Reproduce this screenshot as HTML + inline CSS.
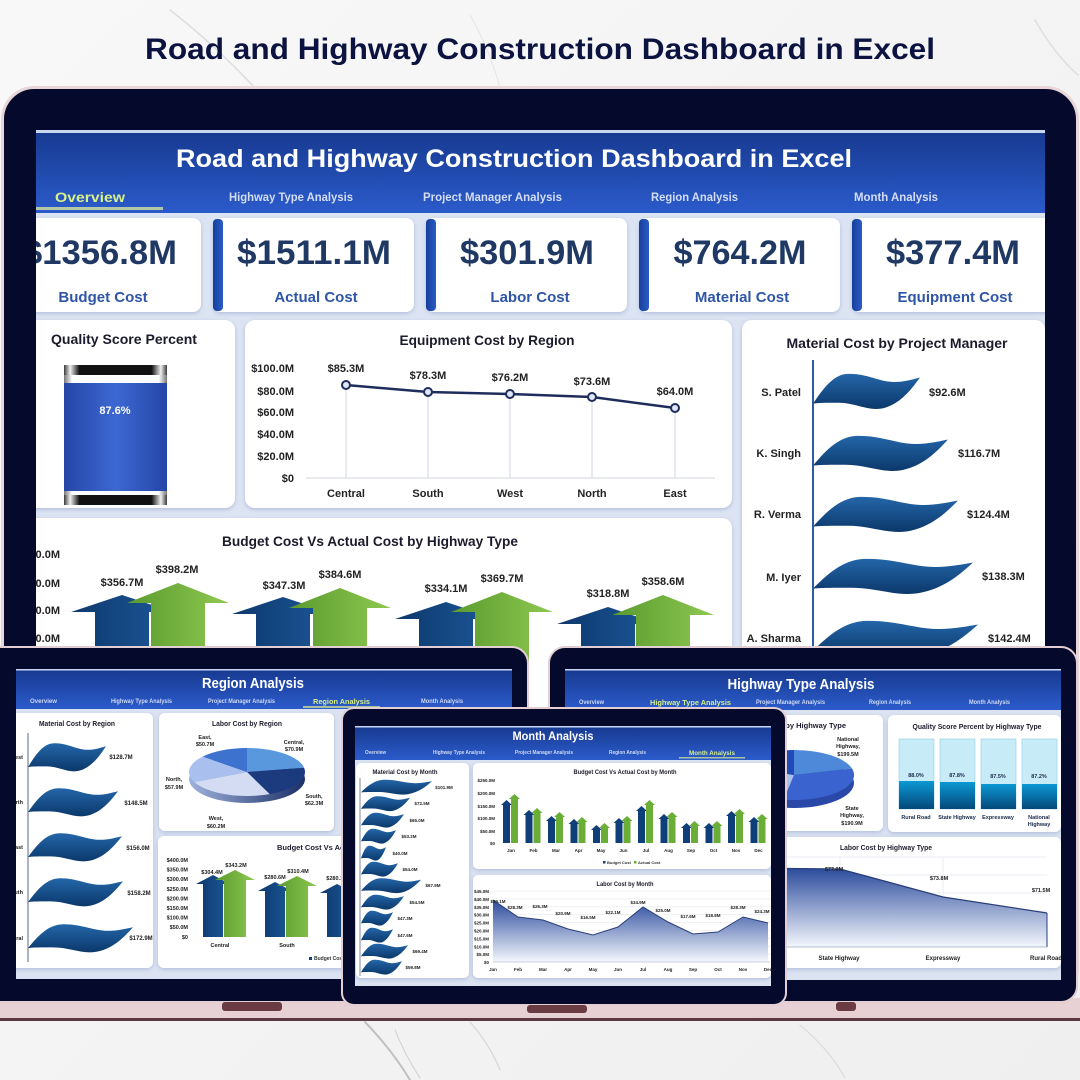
<!DOCTYPE html>
<html><head><meta charset="utf-8">
<style>
html,body{margin:0;padding:0;background:#f4f4f4;}
svg{display:block;}
text{font-family:"Liberation Sans",Arial,sans-serif;font-weight:bold;}
</style></head>
<body>
<svg width="1080" height="1080" viewBox="0 0 1080 1080" xmlns="http://www.w3.org/2000/svg">
<defs>
  <linearGradient id="bg" x1="0" y1="0" x2="1" y2="1"><stop offset="0" stop-color="#f8f8f8"/><stop offset="1" stop-color="#efefef"/></linearGradient>
  <linearGradient id="hdr" x1="0" y1="0" x2="0" y2="1"><stop offset="0" stop-color="#17398f"/><stop offset="1" stop-color="#2b5bcb"/></linearGradient>
  <linearGradient id="flag" x1="0" y1="0" x2="0" y2="1"><stop offset="0" stop-color="#2466a9"/><stop offset="1" stop-color="#0b386a"/></linearGradient>
  <linearGradient id="blueA" x1="0" y1="0" x2="1" y2="0"><stop offset="0" stop-color="#0d386d"/><stop offset="1" stop-color="#1c5898"/></linearGradient>
  <linearGradient id="greenA" x1="0" y1="0" x2="1" y2="0"><stop offset="0" stop-color="#5a9a2e"/><stop offset="1" stop-color="#8dc850"/></linearGradient>
  <linearGradient id="gauge" x1="0" y1="0" x2="1" y2="0"><stop offset="0" stop-color="#2446a6"/><stop offset=".5" stop-color="#3d68d2"/><stop offset="1" stop-color="#2446a6"/></linearGradient>
  <linearGradient id="capG" x1="0" y1="0" x2="1" y2="0"><stop offset="0" stop-color="#3a3a3a"/><stop offset=".06" stop-color="#f0f0f0"/><stop offset=".15" stop-color="#111"/><stop offset=".85" stop-color="#111"/><stop offset=".94" stop-color="#f0f0f0"/><stop offset="1" stop-color="#3a3a3a"/></linearGradient>
  <linearGradient id="wband" x1="0" y1="0" x2="1" y2="0"><stop offset="0" stop-color="#777"/><stop offset=".08" stop-color="#fff"/><stop offset=".92" stop-color="#fff"/><stop offset="1" stop-color="#777"/></linearGradient>
  <linearGradient id="accent" x1="0" y1="0" x2="1" y2="0"><stop offset="0" stop-color="#163f9c"/><stop offset="1" stop-color="#2a5cc4"/></linearGradient>
  <linearGradient id="area" x1="0" y1="0" x2="0" y2="1"><stop offset="0" stop-color="#2b4b9c"/><stop offset="1" stop-color="#f4f7fd"/></linearGradient>
  <linearGradient id="pieSide" x1="0" y1="0" x2="1" y2="0"><stop offset="0" stop-color="#9fb2dc"/><stop offset="1" stop-color="#1c2f68"/></linearGradient>
  <linearGradient id="qDark" x1="0" y1="0" x2="0" y2="1"><stop offset="0" stop-color="#0b98d3"/><stop offset="1" stop-color="#05487a"/></linearGradient>
  <path id="fl" d="M0,14 C8,0 18,-18 32,-19 C50,-20 62,-10 76,-10 C86,-10 93,-13 100,-15 C92,-2 82,14 66,19 C52,23 40,13 24,13 C12,13 5,13 0,14 Z"/>
  <clipPath id="cMain"><rect x="36" y="130" width="1009" height="640"/></clipPath>
  <clipPath id="cReg"><rect x="16" y="669" width="496" height="310"/></clipPath>
  <clipPath id="cHw"><rect x="565" y="669" width="496" height="311"/></clipPath>
  <clipPath id="cMon"><rect x="355" y="726" width="416" height="260"/></clipPath>
  <filter id="sh" x="-5%" y="-5%" width="110%" height="115%"><feDropShadow dx="0" dy="1.5" stdDeviation="2" flood-color="#7d90bd" flood-opacity=".45"/></filter>
</defs>

<!-- marble background -->
<rect width="1080" height="1080" fill="url(#bg)"/>
<g fill="none" stroke-linecap="round">
  <path d="M170,10 Q215,45 255,88" stroke="#d2d2d2" stroke-width="1.5" opacity=".7"/>
  <path d="M470,15 Q490,50 500,88" stroke="#dadada" stroke-width="1" opacity=".6"/>
  <path d="M1035,20 Q1055,55 1078,75" stroke="#d0d0d0" stroke-width="1.5" opacity=".6"/>
  <path d="M365,1022 Q392,1050 410,1080" stroke="#8f8f8f" stroke-width="2" opacity=".5"/>
  <path d="M395,1030 Q405,1055 420,1078" stroke="#b5b5b5" stroke-width="1" opacity=".6"/>
  <path d="M470,1022 Q490,1045 500,1070" stroke="#c4c4c4" stroke-width="1.2" opacity=".6"/>
  <path d="M800,1025 Q830,1050 845,1078" stroke="#cfcfcf" stroke-width="1.2" opacity=".6"/>
</g>

<!-- page title -->
<text x="540" y="59" text-anchor="middle" font-size="30" fill="#0c1340" textLength="790" lengthAdjust="spacingAndGlyphs">Road and Highway Construction Dashboard in Excel</text>

<!-- BIG LAPTOP -->
<rect x="2.5" y="87.5" width="1075" height="912" rx="32" fill="#050a2c" stroke="#ead6d9" stroke-width="3"/>
<g clip-path="url(#cMain)">
  <rect x="36" y="130" width="1009" height="640" fill="#dce4f3"/>
  <rect x="36" y="130" width="1009" height="83" fill="url(#hdr)"/>
  <rect x="36" y="130" width="1009" height="3" fill="#c9d7f2"/>
  <text x="514" y="167" text-anchor="middle" font-size="25" fill="#fff" textLength="676" lengthAdjust="spacingAndGlyphs">Road and Highway Construction Dashboard in Excel</text>
  <text x="55" y="202" font-size="14" fill="#d6f08a" textLength="70" lengthAdjust="spacingAndGlyphs">Overview</text>
  <rect x="36" y="207" width="127" height="3" fill="#b3c8a6"/>
  <g font-size="12" fill="#d3ddf5">
    <text x="229" y="201" textLength="124" lengthAdjust="spacingAndGlyphs">Highway Type Analysis</text>
    <text x="423" y="201" textLength="139" lengthAdjust="spacingAndGlyphs">Project Manager Analysis</text>
    <text x="651" y="201" textLength="87" lengthAdjust="spacingAndGlyphs">Region Analysis</text>
    <text x="854" y="201" textLength="84" lengthAdjust="spacingAndGlyphs">Month Analysis</text>
  </g>

  <!-- KPI cards -->
  <g filter="url(#sh)" fill="#fff">
    <rect x="0" y="218" width="201" height="94" rx="8"/>
    <rect x="213" y="218" width="201" height="94" rx="8"/>
    <rect x="426" y="218" width="201" height="94" rx="8"/>
    <rect x="639" y="218" width="201" height="94" rx="8"/>
    <rect x="852" y="218" width="201" height="94" rx="8"/>
  </g>
  <g fill="url(#accent)">
    <rect x="213" y="219" width="10" height="92" rx="4"/>
    <rect x="426" y="219" width="10" height="92" rx="4"/>
    <rect x="639" y="219" width="10" height="92" rx="4"/>
    <rect x="852" y="219" width="10" height="92" rx="4"/>
  </g>
  <g font-size="34" fill="#1f3864" text-anchor="middle">
    <text x="100" y="264" textLength="154" lengthAdjust="spacingAndGlyphs">$1356.8M</text>
    <text x="314" y="264" textLength="154" lengthAdjust="spacingAndGlyphs">$1511.1M</text>
    <text x="527" y="264" textLength="134" lengthAdjust="spacingAndGlyphs">$301.9M</text>
    <text x="740" y="264" textLength="133" lengthAdjust="spacingAndGlyphs">$764.2M</text>
    <text x="953" y="264" textLength="134" lengthAdjust="spacingAndGlyphs">$377.4M</text>
  </g>
  <g font-size="15" fill="#2f56a6" text-anchor="middle">
    <text x="103" y="302">Budget Cost</text>
    <text x="316" y="302">Actual Cost</text>
    <text x="530" y="302">Labor Cost</text>
    <text x="742" y="302">Material Cost</text>
    <text x="955" y="302">Equipment Cost</text>
  </g>

  <!-- row 2 cards -->
  <g filter="url(#sh)" fill="#fff">
    <rect x="20" y="320" width="215" height="188" rx="10"/>
    <rect x="245" y="320" width="487" height="188" rx="10"/>
    <rect x="742" y="320" width="303" height="440" rx="10"/>
    <rect x="20" y="518" width="712" height="260" rx="10"/>
  </g>

  <!-- Quality score -->
  <text x="124" y="344" text-anchor="middle" font-size="14" fill="#1b1b2b" textLength="146" lengthAdjust="spacingAndGlyphs">Quality Score Percent</text>
  <rect x="64" y="365" width="103" height="10" fill="url(#capG)"/>
  <rect x="64" y="375" width="103" height="8" fill="url(#wband)"/>
  <rect x="64" y="383" width="103" height="108" fill="url(#gauge)"/>
  <rect x="64" y="491" width="103" height="4" fill="url(#wband)"/>
  <rect x="64" y="495" width="103" height="10" fill="url(#capG)"/>
  <text x="115" y="414" text-anchor="middle" font-size="11" fill="#fff">87.6%</text>

  <!-- Equipment cost by region -->
  <text x="487" y="345" text-anchor="middle" font-size="14" fill="#1b1b2b" textLength="175" lengthAdjust="spacingAndGlyphs">Equipment Cost by Region</text>
  <g font-size="11" fill="#222" text-anchor="end">
    <text x="294" y="372">$100.0M</text>
    <text x="294" y="395">$80.0M</text>
    <text x="294" y="416">$60.0M</text>
    <text x="294" y="438">$40.0M</text>
    <text x="294" y="460">$20.0M</text>
    <text x="294" y="482">$0</text>
  </g>
  <line x1="306" y1="478" x2="715" y2="478" stroke="#d3d6dc" stroke-width="1"/>
  <g stroke="#cfd6e2" stroke-width="1">
    <line x1="346" y1="385" x2="346" y2="478"/>
    <line x1="428" y1="392" x2="428" y2="478"/>
    <line x1="510" y1="394" x2="510" y2="478"/>
    <line x1="592" y1="397" x2="592" y2="478"/>
    <line x1="675" y1="408" x2="675" y2="478"/>
  </g>
  <polyline points="346,385 428,392 510,394 592,397 675,408" fill="none" stroke="#1e2d5c" stroke-width="2.5"/>
  <g fill="#dfe6f5" stroke="#1e2d5c" stroke-width="2">
    <circle cx="346" cy="385" r="4"/><circle cx="428" cy="392" r="4"/><circle cx="510" cy="394" r="4"/><circle cx="592" cy="397" r="4"/><circle cx="675" cy="408" r="4"/>
  </g>
  <g font-size="11" fill="#222" text-anchor="middle">
    <text x="346" y="372">$85.3M</text>
    <text x="428" y="379">$78.3M</text>
    <text x="510" y="381">$76.2M</text>
    <text x="592" y="385">$73.6M</text>
    <text x="675" y="395">$64.0M</text>
    <text x="346" y="497">Central</text>
    <text x="428" y="497">South</text>
    <text x="510" y="497">West</text>
    <text x="592" y="497">North</text>
    <text x="675" y="497">East</text>
  </g>

  <!-- Material cost by PM -->
  <text x="897" y="348" text-anchor="middle" font-size="14" fill="#1b1b2b" textLength="221" lengthAdjust="spacingAndGlyphs">Material Cost by Project Manager</text>
  <line x1="813" y1="360" x2="813" y2="770" stroke="#2e5aa8" stroke-width="2"/>
  <g fill="url(#flag)">
    <use href="#fl" transform="translate(813,391) scale(1.07,0.9)"/>
    <use href="#fl" transform="translate(813,453) scale(1.35,0.9)"/>
    <use href="#fl" transform="translate(813,514) scale(1.45,0.9)"/>
    <use href="#fl" transform="translate(813,576) scale(1.6,0.9)"/>
    <use href="#fl" transform="translate(813,638) scale(1.65,0.9)"/>
  </g>
  <g font-size="11" fill="#222" text-anchor="end">
    <text x="801" y="396">S. Patel</text>
    <text x="801" y="457">K. Singh</text>
    <text x="801" y="518">R. Verma</text>
    <text x="801" y="581">M. Iyer</text>
    <text x="801" y="642">A. Sharma</text>
  </g>
  <g font-size="11" fill="#222">
    <text x="929" y="396">$92.6M</text>
    <text x="958" y="457">$116.7M</text>
    <text x="967" y="518">$124.4M</text>
    <text x="982" y="580">$138.3M</text>
    <text x="988" y="642">$142.4M</text>
  </g>

  <!-- Budget vs actual by highway type -->
  <text x="370" y="546" text-anchor="middle" font-size="14" fill="#1b1b2b" textLength="296" lengthAdjust="spacingAndGlyphs">Budget Cost Vs Actual Cost by Highway Type</text>
  <g font-size="11" fill="#222" text-anchor="end">
    <text x="60" y="558">$400.0M</text>
    <text x="60" y="587">$300.0M</text>
    <text x="60" y="614">$200.0M</text>
    <text x="60" y="642">$100.0M</text>
  </g>
  <path fill="url(#blueA)" d="M95,770 L95,612 L71,612 L122,595 L173,612 L149,612 L149,770 Z"/>
  <path fill="url(#greenA)" d="M151,770 L151,603 L127,603 L178,583 L229,603 L205,603 L205,770 Z"/>
  <path fill="url(#blueA)" d="M256,770 L256,614 L232,614 L283,597 L334,614 L310,614 L310,770 Z"/>
  <path fill="url(#greenA)" d="M313,770 L313,608 L289,608 L340,588 L391,608 L367,608 L367,770 Z"/>
  <path fill="url(#blueA)" d="M419,770 L419,619 L395,619 L446,602 L497,619 L473,619 L473,770 Z"/>
  <path fill="url(#greenA)" d="M475,770 L475,612 L451,612 L502,592 L553,612 L529,612 L529,770 Z"/>
  <path fill="url(#blueA)" d="M581,770 L581,624 L557,624 L608,607 L659,624 L635,624 L635,770 Z"/>
  <path fill="url(#greenA)" d="M636,770 L636,615 L612,615 L663,595 L714,615 L690,615 L690,770 Z"/>
  <g font-size="11" fill="#222" text-anchor="middle">
    <text x="122" y="586">$356.7M</text>
    <text x="177" y="573">$398.2M</text>
    <text x="284" y="589">$347.3M</text>
    <text x="340" y="578">$384.6M</text>
    <text x="446" y="592">$334.1M</text>
    <text x="502" y="582">$369.7M</text>
    <text x="608" y="597">$318.8M</text>
    <text x="663" y="585">$358.6M</text>
  </g>
</g>

<!-- base strip -->
<rect x="0" y="998" width="1080" height="21" fill="#e7d1d4"/>
<rect x="0" y="1018" width="1080" height="3" fill="#5b3940"/>

<!-- REGION LAPTOP -->
<rect x="-20" y="647" width="548" height="355" rx="16" fill="#050a2c" stroke="#e3cfd3" stroke-width="2"/>
<g clip-path="url(#cReg)">
  <rect x="16" y="669" width="496" height="310" fill="#dbe3f2"/>
  <rect x="16" y="669" width="496" height="40" fill="url(#hdr)"/>
  <rect x="16" y="669" width="496" height="1.5" fill="#c9d7f2"/>
  <text x="253" y="688" text-anchor="middle" font-size="15" fill="#fff" textLength="102" lengthAdjust="spacingAndGlyphs">Region Analysis</text>
  <g font-size="6" fill="#cfdaf3">
    <text x="30" y="703" textLength="27" lengthAdjust="spacingAndGlyphs">Overview</text>
    <text x="111" y="703" textLength="61" lengthAdjust="spacingAndGlyphs">Highway Type Analysis</text>
    <text x="208" y="703" textLength="67" lengthAdjust="spacingAndGlyphs">Project Manager Analysis</text>
    <text x="421" y="703" textLength="42" lengthAdjust="spacingAndGlyphs">Month Analysis</text>
  </g>
  <text x="313" y="704" font-size="7.5" fill="#d6f08a" textLength="57" lengthAdjust="spacingAndGlyphs">Region Analysis</text>
  <rect x="303" y="706" width="77" height="2" fill="#a9c29d"/>

  <g filter="url(#sh)" fill="#fff">
    <rect x="10" y="713" width="143" height="255" rx="6"/>
    <rect x="159" y="713" width="175" height="118" rx="6"/>
    <rect x="158" y="836" width="200" height="132" rx="6"/>
  </g>
  <!-- material by region -->
  <text x="77" y="726" text-anchor="middle" font-size="7.5" fill="#1b1b2b" textLength="76" lengthAdjust="spacingAndGlyphs">Material Cost by Region</text>
  <line x1="28" y1="733" x2="28" y2="962" stroke="#5a6a8a" stroke-width="1"/>
  <g fill="url(#flag)">
    <use href="#fl" transform="translate(28,757) scale(0.78,0.72)"/>
    <use href="#fl" transform="translate(28,802) scale(0.9,0.72)"/>
    <use href="#fl" transform="translate(28,847) scale(0.94,0.72)"/>
    <use href="#fl" transform="translate(28,892) scale(0.95,0.72)"/>
    <use href="#fl" transform="translate(28,938) scale(1.05,0.72)"/>
  </g>
  <g font-size="5.5" fill="#222" text-anchor="end">
    <text x="23" y="759">West</text>
    <text x="23" y="804">North</text>
    <text x="23" y="849">East</text>
    <text x="23" y="894">South</text>
    <text x="23" y="940">Central</text>
  </g>
  <g font-size="6" fill="#222" text-anchor="middle">
    <text x="121" y="759">$128.7M</text>
    <text x="136" y="805">$148.5M</text>
    <text x="138" y="850">$156.0M</text>
    <text x="139" y="895">$158.2M</text>
    <text x="141" y="940">$172.9M</text>
  </g>
  <!-- labor pie -->
  <text x="247" y="726" text-anchor="middle" font-size="7.5" fill="#1b1b2b" textLength="70" lengthAdjust="spacingAndGlyphs">Labor Cost by Region</text>
  <ellipse cx="247" cy="779" rx="58" ry="24" fill="url(#pieSide)"/>
  <path d="M247,772 L247,748 A58,24 0 0,1 304.1,767.8 Z" fill="#5a98de"/>
  <path d="M247,772 L304.1,767.8 A58,24 0 0,1 269.7,794.1 Z" fill="#1c3b7e"/>
  <path d="M247,772 L269.7,794.1 A58,24 0 0,1 194.4,782.1 Z" fill="#d3dcf2"/>
  <path d="M247,772 L194.4,782.1 A58,24 0 0,1 202.6,756.6 Z" fill="#a9c0ef"/>
  <path d="M247,772 L202.6,756.6 A58,24 0 0,1 247,748 Z" fill="#3e72cf"/>
  <g font-size="5.5" fill="#222" text-anchor="middle">
    <text x="205" y="739">East,</text><text x="205" y="746">$50.7M</text>
    <text x="294" y="744">Central,</text><text x="294" y="751">$70.9M</text>
    <text x="174" y="781">North,</text><text x="174" y="789">$57.9M</text>
    <text x="314" y="798">South,</text><text x="314" y="805">$62.3M</text>
    <text x="216" y="820">West,</text><text x="216" y="828">$60.2M</text>
  </g>
  <!-- region budget -->
  <text x="277" y="850" font-size="7.5" fill="#1b1b2b">Budget Cost Vs Actual Cost by Region</text>
  <g font-size="5.5" fill="#222" text-anchor="end">
    <text x="188" y="862">$400.0M</text>
    <text x="188" y="871.6">$350.0M</text>
    <text x="188" y="881.2">$300.0M</text>
    <text x="188" y="890.8">$250.0M</text>
    <text x="188" y="900.4">$200.0M</text>
    <text x="188" y="910">$150.0M</text>
    <text x="188" y="919.6">$100.0M</text>
    <text x="188" y="929.2">$50.0M</text>
    <text x="188" y="939">$0</text>
  </g>
  <path fill="url(#blueA)" d="M203,937 L203,884 L196,884 L213,875 L230,884 L223,884 L223,937 Z"/>
  <path fill="url(#greenA)" d="M224,937 L224,880 L215,880 L235,870 L255,880 L246,880 L246,937 Z"/>
  <path fill="url(#blueA)" d="M265,937 L265,891 L258,891 L275,882 L292,891 L285,891 L285,937 Z"/>
  <path fill="url(#greenA)" d="M286,937 L286,886 L277,886 L297,876 L317,886 L308,886 L308,937 Z"/>
  <path fill="url(#blueA)" d="M327,937 L327,893 L320,893 L337,884 L354,893 L347,893 L347,937 Z"/>
  <g font-size="5.5" fill="#222" text-anchor="middle">
    <text x="212" y="874">$304.4M</text>
    <text x="236" y="867">$343.2M</text>
    <text x="275" y="879">$280.6M</text>
    <text x="298" y="873">$310.4M</text>
    <text x="337" y="880">$280.1M</text>
    <text x="220" y="947">Central</text>
    <text x="287" y="947">South</text>
  </g>
  <rect x="309" y="957" width="3" height="3" fill="#0f3f78"/>
  <text x="314" y="960" font-size="5" fill="#333">Budget Cost</text>
</g>

<!-- HIGHWAY LAPTOP -->
<rect x="549" y="647" width="528" height="355" rx="16" fill="#050a2c" stroke="#e3cfd3" stroke-width="2"/>
<g clip-path="url(#cHw)">
  <rect x="565" y="669" width="496" height="311" fill="#dbe3f2"/>
  <rect x="565" y="669" width="496" height="41" fill="url(#hdr)"/>
  <rect x="565" y="669" width="496" height="1.5" fill="#c9d7f2"/>
  <text x="801" y="689" text-anchor="middle" font-size="15" fill="#fff" textLength="147" lengthAdjust="spacingAndGlyphs">Highway Type Analysis</text>
  <g font-size="6" fill="#cfdaf3">
    <text x="579" y="704" textLength="25" lengthAdjust="spacingAndGlyphs">Overview</text>
    <text x="756" y="704" textLength="69" lengthAdjust="spacingAndGlyphs">Project Manager Analysis</text>
    <text x="869" y="704" textLength="42" lengthAdjust="spacingAndGlyphs">Region Analysis</text>
    <text x="969" y="704" textLength="41" lengthAdjust="spacingAndGlyphs">Month Analysis</text>
  </g>
  <text x="650" y="705" font-size="7.5" fill="#d6f08a" textLength="81" lengthAdjust="spacingAndGlyphs">Highway Type Analysis</text>
  <rect x="650" y="707" width="81" height="2" fill="#a9c29d"/>

  <g filter="url(#sh)" fill="#fff">
    <rect x="700" y="715" width="183" height="116" rx="6"/>
    <rect x="888" y="715" width="173" height="117" rx="6"/>
    <rect x="700" y="837" width="361" height="131" rx="6"/>
  </g>
  <!-- pie -->
  <text x="846" y="728" text-anchor="end" font-size="7.5" fill="#1b1b2b">Material Cost by Highway Type</text>
  <ellipse cx="794" cy="783" rx="60" ry="25" fill="#2a48a8"/>
  <path d="M794,775 L794,750 A60,25 0 0,1 852,768.5 Z" fill="#4d89d8"/>
  <path d="M794,775 L852,768.5 A60,25 0 0,1 783.6,799.6 Z" fill="#3a63cf"/>
  <path d="M794,775 L783.6,799.6 A60,25 0 0,1 737.6,766.4 Z" fill="#a9c1ee"/>
  <path d="M794,775 L737.6,766.4 A60,25 0 0,1 794,750 Z" fill="#1f4ab8"/>
  <g font-size="5.5" fill="#222" text-anchor="middle">
    <text x="848" y="741">National</text><text x="848" y="748">Highway,</text><text x="848" y="756">$199.5M</text>
    <text x="852" y="810">State</text><text x="852" y="817">Highway,</text><text x="852" y="825">$190.9M</text>
  </g>
  <!-- quality bars -->
  <text x="977" y="729" text-anchor="middle" font-size="7" fill="#1b1b2b" textLength="129" lengthAdjust="spacingAndGlyphs">Quality Score Percent by Highway Type</text>
  <g stroke="#8fcbe6" stroke-width="0.6" fill="#c8ebf8">
    <rect x="899" y="739" width="35" height="70"/>
    <rect x="940" y="739" width="35" height="70"/>
    <rect x="981" y="739" width="35" height="70"/>
    <rect x="1022" y="739" width="35" height="70"/>
  </g>
  <g fill="url(#qDark)">
    <rect x="899" y="781" width="35" height="28"/>
    <rect x="940" y="782" width="35" height="27"/>
    <rect x="981" y="784" width="35" height="25"/>
    <rect x="1022" y="784" width="35" height="25"/>
  </g>
  <g font-size="5.5" fill="#1a2a4a" text-anchor="middle">
    <text x="916" y="777">88.0%</text>
    <text x="957" y="777">87.8%</text>
    <text x="998" y="778">87.5%</text>
    <text x="1039" y="778">87.2%</text>
    <text x="916" y="819">Rural Road</text>
    <text x="957" y="819">State Highway</text>
    <text x="998" y="819">Expressway</text>
    <text x="1039" y="819">National</text>
    <text x="1039" y="826">Highway</text>
  </g>
  <!-- labor by highway -->
  <text x="886" y="850" text-anchor="middle" font-size="7.5" fill="#1b1b2b" textLength="92" lengthAdjust="spacingAndGlyphs">Labor Cost by Highway Type</text>
  <g stroke="#e3e8f0" stroke-width="0.8">
    <line x1="700" y1="857" x2="1047" y2="857"/><line x1="700" y1="875" x2="1047" y2="875"/>
    <line x1="700" y1="893" x2="1047" y2="893"/><line x1="700" y1="911" x2="1047" y2="911"/>
    <line x1="700" y1="929" x2="1047" y2="929"/>
    <line x1="840" y1="857" x2="840" y2="947"/><line x1="943" y1="857" x2="943" y2="947"/>
  </g>
  <path d="M740,868 L840,869 L943,897 L1047,913 L1047,947 L740,947 Z" fill="url(#area)"/>
  <polyline points="740,868 840,869 943,897 1047,913" fill="none" stroke="#2a3f7a" stroke-width="1.3"/>
  <line x1="1047" y1="913" x2="1047" y2="947" stroke="#2a3f7a" stroke-width="1"/>
  <line x1="740" y1="947" x2="1047" y2="947" stroke="#9aa6c0" stroke-width="0.8"/>
  <g font-size="5.5" fill="#222" text-anchor="middle">
    <text x="834" y="871">$77.0M</text>
    <text x="939" y="880">$73.8M</text>
    <text x="1041" y="892">$71.5M</text>
  </g>
  <g font-size="6" fill="#222" text-anchor="middle">
    <text x="839" y="960">State Highway</text>
    <text x="943" y="960">Expressway</text>
    <text x="1046" y="960">Rural Road</text>
  </g>
</g>

<!-- MONTH LAPTOP -->
<rect x="342" y="708" width="444" height="297" rx="12" fill="#050a2c" stroke="#e3cfd3" stroke-width="2"/>
<g clip-path="url(#cMon)">
  <rect x="355" y="726" width="416" height="260" fill="#dbe3f2"/>
  <rect x="355" y="726" width="416" height="34" fill="url(#hdr)"/>
  <rect x="355" y="726" width="416" height="1.5" fill="#c9d7f2"/>
  <text x="553" y="740" text-anchor="middle" font-size="12" fill="#fff" textLength="81" lengthAdjust="spacingAndGlyphs">Month Analysis</text>
  <g font-size="5" fill="#cfdaf3">
    <text x="365" y="754" textLength="21" lengthAdjust="spacingAndGlyphs">Overview</text>
    <text x="433" y="754" textLength="52" lengthAdjust="spacingAndGlyphs">Highway Type Analysis</text>
    <text x="515" y="754" textLength="58" lengthAdjust="spacingAndGlyphs">Project Manager Analysis</text>
    <text x="609" y="754" textLength="37" lengthAdjust="spacingAndGlyphs">Region Analysis</text>
  </g>
  <text x="689" y="755" font-size="6" fill="#d6f08a" textLength="46" lengthAdjust="spacingAndGlyphs">Month Analysis</text>
  <rect x="679" y="757" width="66" height="1.5" fill="#a9c29d"/>

  <g filter="url(#sh)" fill="#fff">
    <rect x="356" y="763" width="113" height="215" rx="5"/>
    <rect x="473" y="763" width="298" height="106" rx="5"/>
    <rect x="473" y="875" width="298" height="103" rx="5"/>
  </g>
  <!-- material by month -->
  <text x="405" y="774" text-anchor="middle" font-size="6" fill="#1b1b2b" textLength="65" lengthAdjust="spacingAndGlyphs">Material Cost by Month</text>
  <line x1="360" y1="778" x2="360" y2="976" stroke="#5a6a8a" stroke-width="0.8"/>
  <g fill="url(#flag)">
    <use href="#fl" transform="translate(361,787) scale(0.71,0.38)"/>
    <use href="#fl" transform="translate(361,803.5) scale(0.49,0.38)"/>
    <use href="#fl" transform="translate(361,820) scale(0.43,0.38)"/>
    <use href="#fl" transform="translate(361,836) scale(0.35,0.38)"/>
    <use href="#fl" transform="translate(361,853) scale(0.25,0.38)"/>
    <use href="#fl" transform="translate(361,869) scale(0.37,0.38)"/>
    <use href="#fl" transform="translate(361,885.5) scale(0.6,0.38)"/>
    <use href="#fl" transform="translate(361,902) scale(0.43,0.38)"/>
    <use href="#fl" transform="translate(361,918) scale(0.32,0.38)"/>
    <use href="#fl" transform="translate(361,935) scale(0.32,0.38)"/>
    <use href="#fl" transform="translate(361,951) scale(0.47,0.38)"/>
    <use href="#fl" transform="translate(361,967) scale(0.41,0.38)"/>
  </g>
  <g font-size="4.5" fill="#222" text-anchor="middle">
    <text x="444" y="789">$101.9M</text>
    <text x="422" y="805">$72.5M</text>
    <text x="417" y="822">$65.0M</text>
    <text x="409" y="838">$53.2M</text>
    <text x="400" y="855">$40.0M</text>
    <text x="410" y="871">$54.0M</text>
    <text x="433" y="887">$67.9M</text>
    <text x="417" y="904">$54.5M</text>
    <text x="405" y="920">$47.3M</text>
    <text x="405" y="937">$47.6M</text>
    <text x="420" y="953">$69.4M</text>
    <text x="413" y="969">$59.8M</text>
  </g>
  <!-- budget by month -->
  <text x="625" y="774" text-anchor="middle" font-size="6" fill="#1b1b2b" textLength="103" lengthAdjust="spacingAndGlyphs">Budget Cost Vs Actual Cost by Month</text>
  <g font-size="4.5" fill="#222" text-anchor="end">
    <text x="495" y="782">$250.0M</text>
    <text x="495" y="795">$200.0M</text>
    <text x="495" y="808">$150.0M</text>
    <text x="495" y="820">$100.0M</text>
    <text x="495" y="833">$50.0M</text>
    <text x="495" y="845">$0</text>
  </g>
  <g fill="#0f3f78">
    <rect x="503" y="805" width="7" height="38"/><polygon points="501,805 506.5,800 512,805"/>
    <rect x="525.5" y="815" width="7" height="28"/><polygon points="523.5,815 529,810 534.5,815"/>
    <rect x="548" y="821" width="7" height="22"/><polygon points="546,821 551.5,816 557,821"/>
    <rect x="570.5" y="824" width="7" height="19"/><polygon points="568.5,824 574,819 579.5,824"/>
    <rect x="593" y="830" width="7" height="13"/><polygon points="591,830 596.5,825 602,830"/>
    <rect x="615.5" y="823" width="7" height="20"/><polygon points="613.5,823 619,818 624.5,823"/>
    <rect x="638" y="811" width="7" height="32"/><polygon points="636,811 641.5,806 647,811"/>
    <rect x="660.5" y="819" width="7" height="24"/><polygon points="658.5,819 664,814 669.5,819"/>
    <rect x="683" y="828" width="7" height="15"/><polygon points="681,828 686.5,823 692,828"/>
    <rect x="705.5" y="828" width="7" height="15"/><polygon points="703.5,828 709,823 714.5,828"/>
    <rect x="728" y="816" width="7" height="27"/><polygon points="726,816 731.5,811 737,816"/>
    <rect x="750.5" y="822" width="7" height="21"/><polygon points="748.5,822 754,817 759.5,822"/>
  </g>
  <g fill="#6aae38">
    <rect x="511" y="799" width="7" height="44"/><polygon points="509,799 514.5,794 520,799"/>
    <rect x="533.5" y="813" width="7" height="30"/><polygon points="531.5,813 537,808 542.5,813"/>
    <rect x="556" y="817" width="7" height="26"/><polygon points="554,817 559.5,812 565,817"/>
    <rect x="578.5" y="822" width="7" height="21"/><polygon points="576.5,822 582,817 587.5,822"/>
    <rect x="601" y="828" width="7" height="15"/><polygon points="599,828 604.5,823 610,828"/>
    <rect x="623.5" y="821" width="7" height="22"/><polygon points="621.5,821 627,816 632.5,821"/>
    <rect x="646" y="805" width="7" height="38"/><polygon points="644,805 649.5,800 655,805"/>
    <rect x="668.5" y="817" width="7" height="26"/><polygon points="666.5,817 672,812 677.5,817"/>
    <rect x="691" y="826" width="7" height="17"/><polygon points="689,826 694.5,821 700,826"/>
    <rect x="713.5" y="826" width="7" height="17"/><polygon points="711.5,826 717,821 722.5,826"/>
    <rect x="736" y="814" width="7" height="29"/><polygon points="734,814 739.5,809 745,814"/>
    <rect x="758.5" y="819" width="7" height="24"/><polygon points="756.5,819 762,814 767.5,819"/>
  </g>
  <g font-size="4.5" fill="#222" text-anchor="middle">
    <text x="511" y="852">Jan</text><text x="533.5" y="852">Feb</text><text x="556" y="852">Mar</text>
    <text x="578.5" y="852">Apr</text><text x="601" y="852">May</text><text x="623.5" y="852">Jun</text>
    <text x="646" y="852">Jul</text><text x="668.5" y="852">Aug</text><text x="691" y="852">Sep</text>
    <text x="713.5" y="852">Oct</text><text x="736" y="852">Nov</text><text x="758.5" y="852">Dec</text>
  </g>
  <rect x="603" y="861" width="2.5" height="2.5" fill="#0f3f78"/>
  <text x="607" y="864" font-size="4" fill="#333">Budget Cost</text>
  <rect x="634" y="861" width="2.5" height="2.5" fill="#6aae38"/>
  <text x="638" y="864" font-size="4" fill="#333">Actual Cost</text>
  <!-- labor by month -->
  <text x="625" y="886" text-anchor="middle" font-size="6" fill="#1b1b2b" textLength="57" lengthAdjust="spacingAndGlyphs">Labor Cost by Month</text>
  <g stroke="#e3e8f0" stroke-width="0.6">
    <line x1="492" y1="891" x2="770" y2="891"/><line x1="492" y1="898.9" x2="770" y2="898.9"/>
    <line x1="492" y1="906.8" x2="770" y2="906.8"/><line x1="492" y1="914.7" x2="770" y2="914.7"/>
    <line x1="492" y1="922.6" x2="770" y2="922.6"/><line x1="492" y1="930.5" x2="770" y2="930.5"/>
    <line x1="492" y1="938.4" x2="770" y2="938.4"/><line x1="492" y1="946.3" x2="770" y2="946.3"/>
    <line x1="492" y1="954.2" x2="770" y2="954.2"/>
  </g>
  <g font-size="4.5" fill="#222" text-anchor="end">
    <text x="489" y="893">$45.0M</text><text x="489" y="900.9">$40.0M</text>
    <text x="489" y="908.8">$35.0M</text><text x="489" y="916.7">$30.0M</text>
    <text x="489" y="924.6">$25.0M</text><text x="489" y="932.5">$20.0M</text>
    <text x="489" y="940.4">$15.0M</text><text x="489" y="948.3">$10.0M</text>
    <text x="489" y="956.2">$5.0M</text><text x="489" y="964">$0</text>
  </g>
  <path d="M493,900 L518,917 L543,920 L568,929 L593,935 L618,927 L643,907 L668,922 L693,934 L718,932 L743,917 L768,923 L768,962 L493,962 Z" fill="url(#area)"/>
  <polyline points="493,900 518,917 543,920 568,929 593,935 618,927 643,907 668,922 693,934 718,932 743,917 768,923" fill="none" stroke="#2a3f7a" stroke-width="1"/>
  <line x1="493" y1="962" x2="770" y2="962" stroke="#9aa6c0" stroke-width="0.6"/>
  <g font-size="4.5" fill="#222" text-anchor="middle">
    <text x="498" y="903">$39.1M</text><text x="515" y="909">$28.3M</text>
    <text x="540" y="908">$26.3M</text><text x="563" y="915">$20.9M</text>
    <text x="588" y="919">$16.5M</text><text x="613" y="914">$22.1M</text>
    <text x="638" y="904">$34.9M</text><text x="663" y="912">$25.0M</text>
    <text x="688" y="918">$17.6M</text><text x="713" y="917">$18.8M</text>
    <text x="738" y="909">$28.3M</text><text x="762" y="913">$24.3M</text>
  </g>
  <g font-size="4.5" fill="#222" text-anchor="middle">
    <text x="493" y="971">Jan</text><text x="518" y="971">Feb</text><text x="543" y="971">Mar</text>
    <text x="568" y="971">Apr</text><text x="593" y="971">May</text><text x="618" y="971">Jun</text>
    <text x="643" y="971">Jul</text><text x="668" y="971">Aug</text><text x="693" y="971">Sep</text>
    <text x="718" y="971">Oct</text><text x="743" y="971">Nov</text><text x="768" y="971">Dec</text>
  </g>
</g>

<!-- feet -->
<rect x="222" y="1002" width="60" height="9" rx="3" fill="#6a3b42"/>
<rect x="527" y="1005" width="60" height="8" rx="3" fill="#6a3b42"/>
<rect x="836" y="1002" width="20" height="9" rx="3" fill="#6a3b42"/>
</svg>
</body></html>
